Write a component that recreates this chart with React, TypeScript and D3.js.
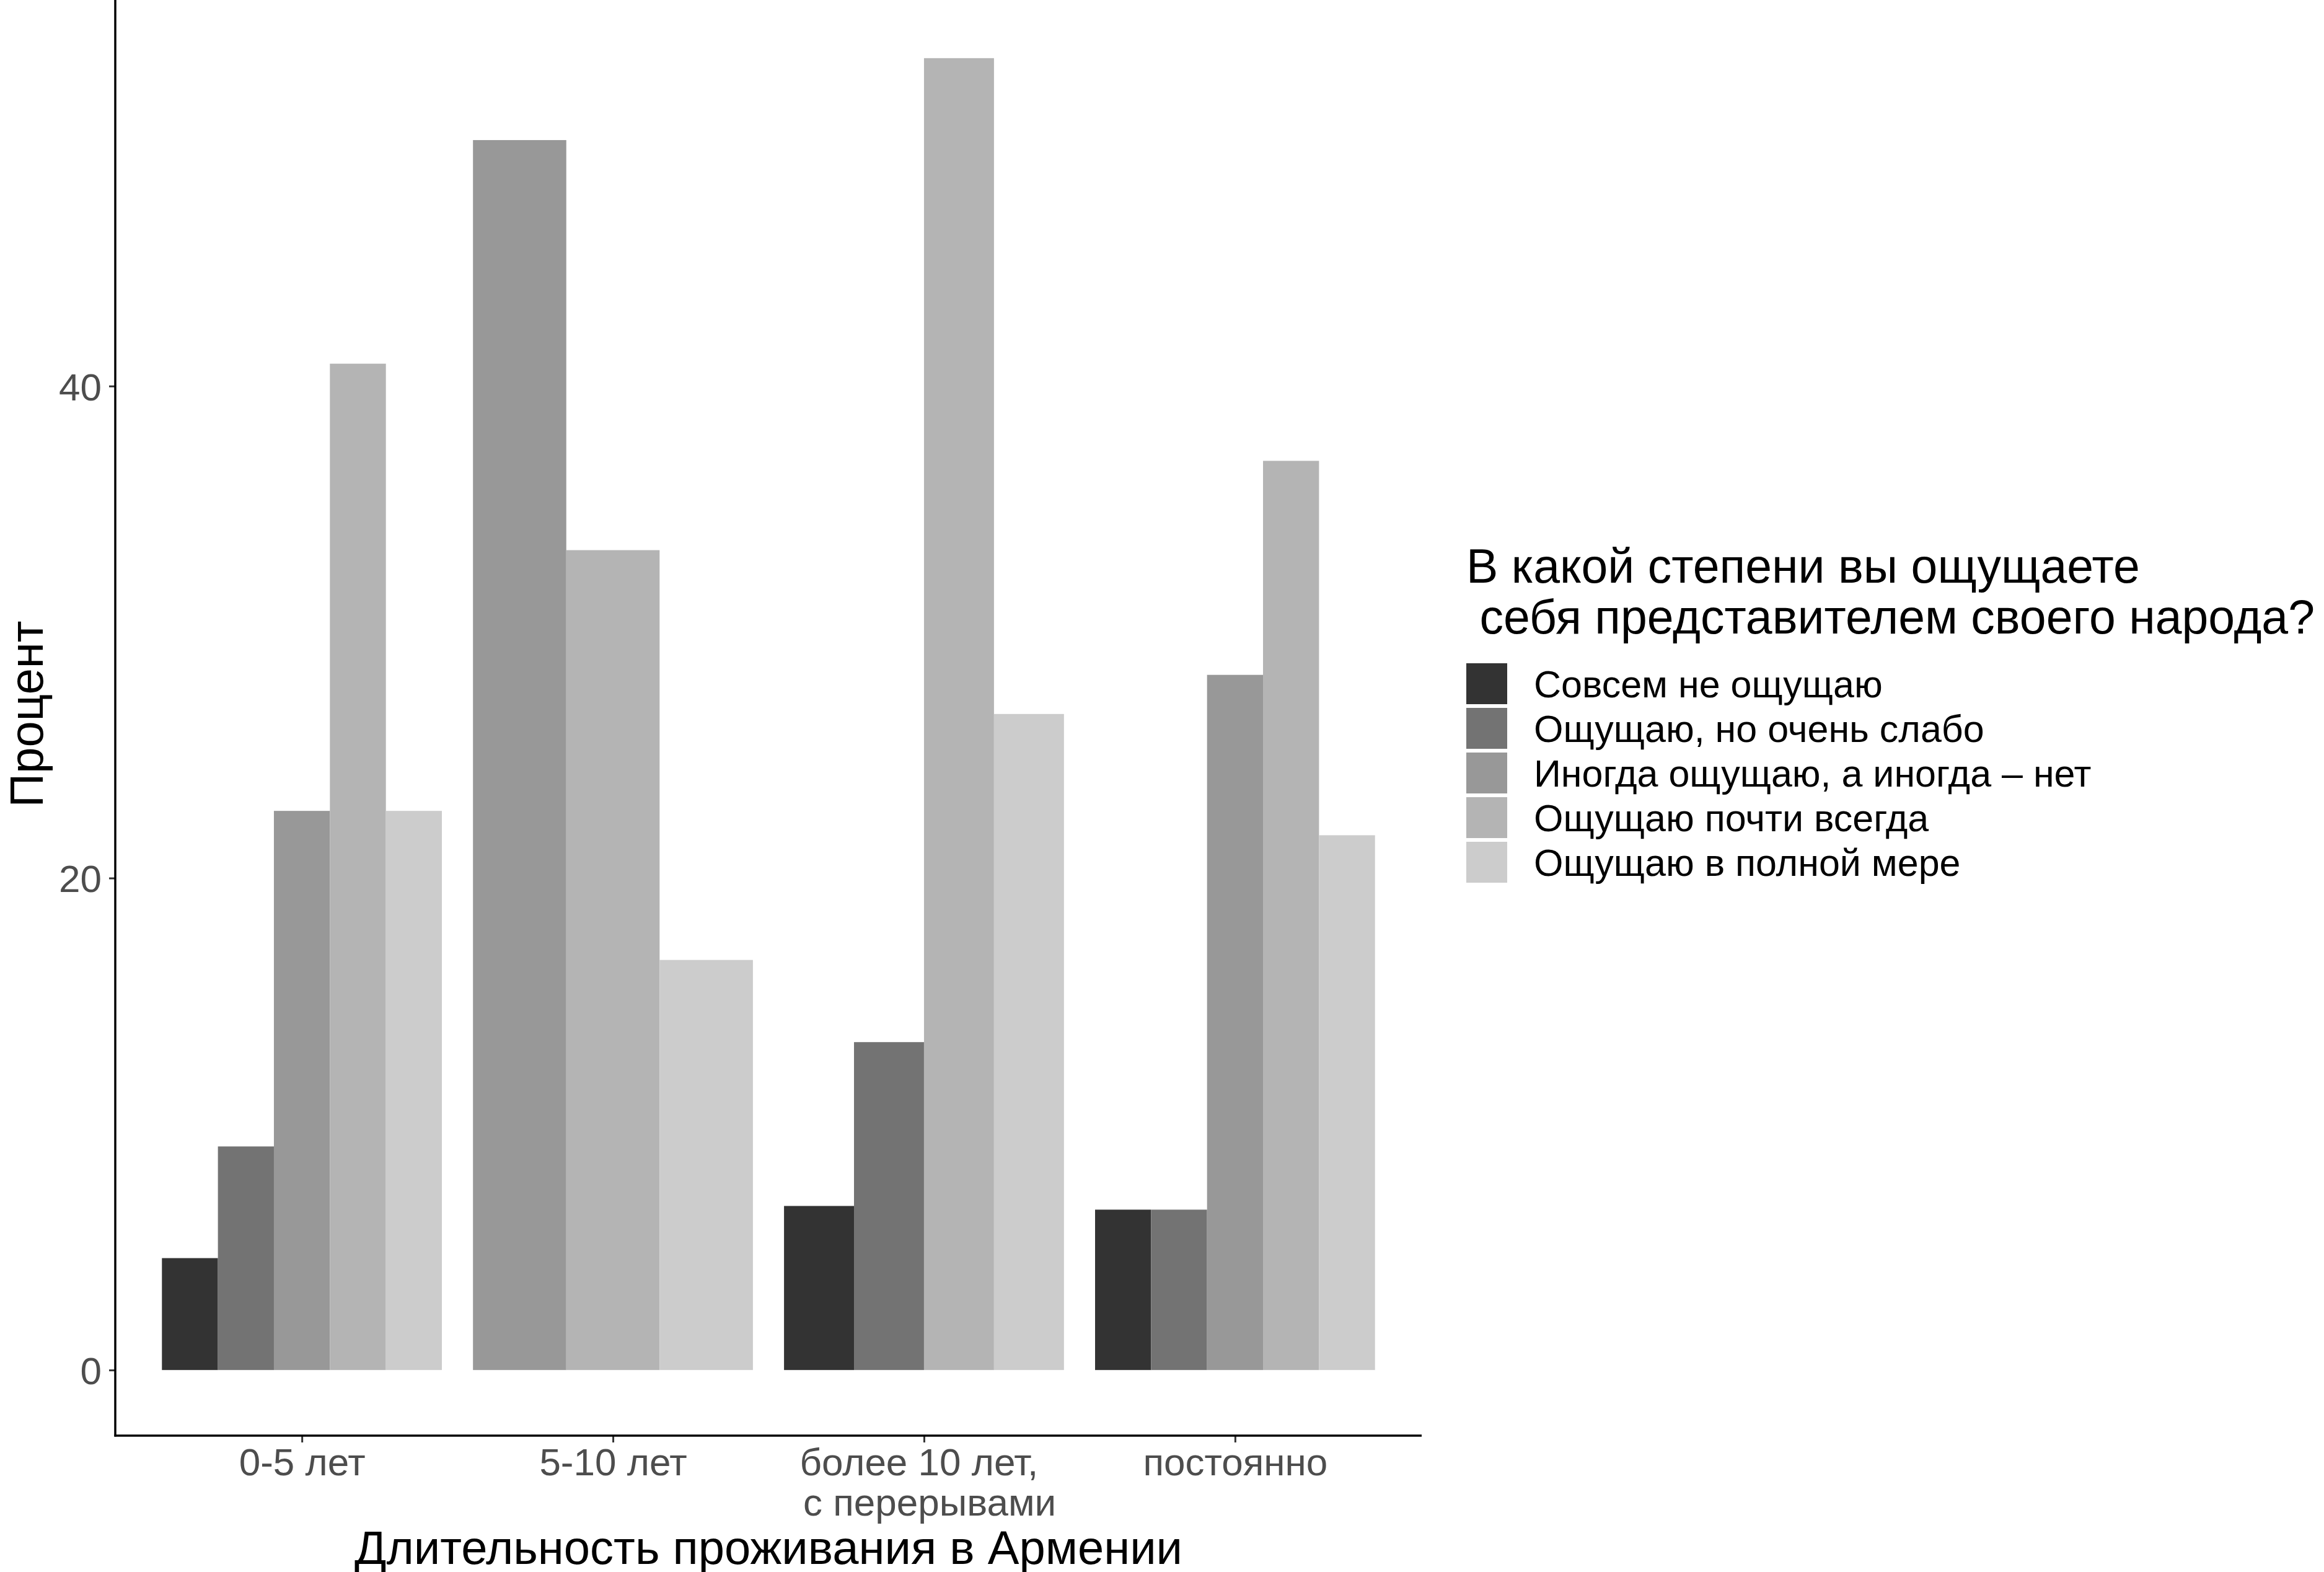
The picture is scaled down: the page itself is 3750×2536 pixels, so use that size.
import React, { useEffect, useRef } from 'react';
import * as d3 from 'd3';

// categories on the x axis
const categories = ['0-5 лет', '5-10 лет', 'более 10 лет, \n с перерывами', 'постоянно'];

// answer options (fill)
const responses = [
  'Совсем не ощущаю',
  'Ощущаю, но очень слабо',
  'Иногда ощущаю, а иногда – нет',
  'Ощущаю почти всегда',
  'Ощущаю в полной мере',
];

// percent per category, in the order of responses (null = no bar)
const vals0to5 = [4.55, 9.09, 22.73, 40.91, 22.73];
const vals5to10 = [null, null, 50.0, 33.33, 16.67];
const valsOver10 = [6.67, 13.33, null, 53.33, 26.67];
const valsPermanent = [6.52, 6.52, 28.26, 36.96, 21.74];

const greys = ['#333333', '#737373', '#989898', '#B4B4B4', '#CCCCCC'];
const yTicks = [0, 20, 40];

const legendTitle = ['В какой степени вы ощущаете', ' себя представителем своего народа?'];
const xTitle = 'Длительность проживания в Армении';
const yTitle = 'Процент';

const FONT = '"Liberation Sans", Arial, Helvetica, sans-serif';

const App = () => {
  const ref = useRef(null);

  useEffect(() => {
    const svg = d3.select(ref.current);
    svg.selectAll('*').remove();

    const allVals = [vals0to5, vals5to10, valsOver10, valsPermanent];
    const rows = [];
    categories.forEach((c, i) => {
      allVals[i].forEach((v, j) => {
        if (v != null) rows.push({ cat: c, resp: responses[j], value: v, k: j });
      });
    });

    const panel = { left: 186, right: 2294, top: -12, bottom: 2316 };

    const x = d3.scalePoint()
      .domain(categories)
      .range([panel.left, panel.right])
      .padding(0.6);

    const maxV = d3.max(rows, d => d.value);
    const y = d3.scaleLinear()
      .domain([-maxV * 0.05, maxV * 1.05])
      .range([panel.bottom, panel.top]);

    const fill = d3.scaleOrdinal().domain(responses).range(greys);

    const groupW = x.step() * 0.9;

    const g = svg.append('g');

    // bars, dodged within each category
    categories.forEach(c => {
      const present = rows.filter(r => r.cat === c);
      const inner = d3.scaleBand()
        .domain(present.map(r => r.resp))
        .range([x(c) - groupW / 2, x(c) + groupW / 2])
        .padding(0);
      g.selectAll(null)
        .data(present)
        .enter()
        .append('rect')
        .attr('x', d => inner(d.resp))
        .attr('width', inner.bandwidth())
        .attr('y', d => y(d.value))
        .attr('height', d => y(0) - y(d.value))
        .attr('fill', d => fill(d.resp));
    });

    // y axis
    const yAxis = d3.axisLeft(y).tickValues(yTicks).tickSize(10).tickPadding(12);
    const ya = g.append('g')
      .attr('transform', `translate(${panel.left},0)`)
      .call(yAxis);
    ya.select('.domain').remove();
    ya.selectAll('.tick line').attr('stroke', '#333333').attr('stroke-width', 3);
    ya.selectAll('.tick text')
      .attr('fill', '#4D4D4D')
      .attr('font-family', FONT)
      .attr('font-size', 62)
      .attr('dy', '0.36em');

    // x axis
    const xAxis = d3.axisBottom(x).tickSize(11).tickFormat(() => '');
    const xa = g.append('g')
      .attr('transform', `translate(0,${panel.bottom})`)
      .call(xAxis);
    xa.select('.domain').remove();
    xa.selectAll('.tick line').attr('stroke', '#333333').attr('stroke-width', 3);
    xa.selectAll('.tick text').remove();
    xa.selectAll('.tick').each(function (d) {
      const lines = String(d).split('\n');
      const t = d3.select(this).append('text')
        .attr('fill', '#4D4D4D')
        .attr('font-family', FONT)
        .attr('font-size', 62)
        .attr('text-anchor', 'middle')
        .style('white-space', 'pre');
      lines.forEach((ln, i) => {
        t.append('tspan').attr('x', 0).attr('y', 64 + i * 65).text(ln);
      });
    });

    // axis lines
    g.append('line')
      .attr('x1', panel.left).attr('x2', panel.left)
      .attr('y1', panel.top).attr('y2', panel.bottom + 1.5)
      .attr('stroke', 'black').attr('stroke-width', 3.5);
    g.append('line')
      .attr('x1', panel.left - 1.5).attr('x2', panel.right)
      .attr('y1', panel.bottom).attr('y2', panel.bottom)
      .attr('stroke', 'black').attr('stroke-width', 3.5);

    // axis titles
    g.append('text')
      .attr('x', (panel.left + panel.right) / 2)
      .attr('y', 2523)
      .attr('text-anchor', 'middle')
      .attr('font-family', FONT)
      .attr('font-size', 76)
      .attr('fill', 'black')
      .text(xTitle);
    g.append('text')
      .attr('transform', `translate(69,${(panel.top + panel.bottom) / 2}) rotate(-90)`)
      .attr('text-anchor', 'middle')
      .attr('font-family', FONT)
      .attr('font-size', 76)
      .attr('fill', 'black')
      .text(yTitle);

    // legend
    const lg = g.append('g').attr('transform', 'translate(2366,0)');
    legendTitle.forEach((ln, i) => {
      lg.append('text')
        .attr('x', 0)
        .attr('y', 940 + i * 82)
        .attr('font-family', FONT)
        .attr('font-size', 77)
        .attr('fill', 'black')
        .style('white-space', 'pre')
        .text(ln);
    });
    const items = lg.selectAll('g.item')
      .data(responses)
      .enter()
      .append('g')
      .attr('class', 'item')
      .attr('transform', (d, i) => `translate(0,${1067 + i * 72})`);
    items.append('rect')
      .attr('x', 0).attr('y', 3)
      .attr('width', 66).attr('height', 66)
      .attr('fill', d => fill(d));
    items.append('text')
      .attr('x', 109)
      .attr('y', 36)
      .attr('dy', '0.36em')
      .attr('font-family', FONT)
      .attr('font-size', 61)
      .attr('fill', 'black')
      .text(d => d);
  }, []);

  return (
    <svg
      ref={ref}
      width={3750}
      height={2536}
      style={{ position: 'absolute', left: 0, top: 0, background: 'white' }}
    ></svg>
  );
};

export default App;
